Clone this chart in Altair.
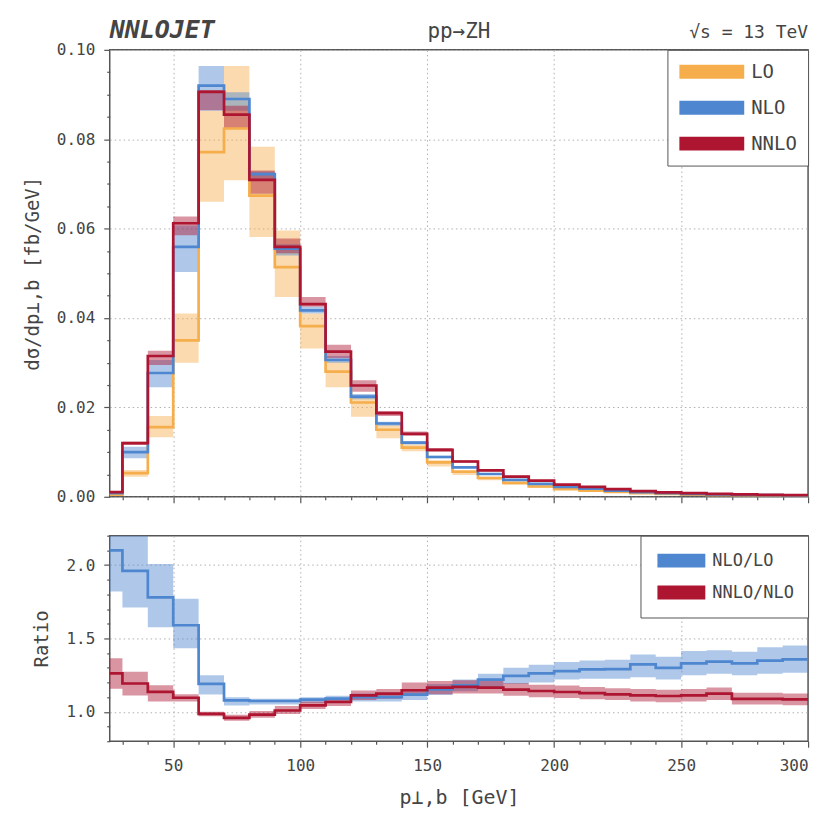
import altair as alt
import pandas as pd

FONT = "DejaVu Sans Mono"
INK = "#444444"

# 10 GeV bins from 20 to 300 GeV (first bin partly outside the shown range)
edges = [20, 30, 40, 50, 60, 70, 80, 90, 100, 110, 120, 130, 140, 150, 160,
         170, 180, 190, 200, 210, 220, 230, 240, 250, 260, 270, 280, 290, 300]

# dsigma/dpT [fb/GeV], central value and scale-variation band per bin
lo_c = [0.0005, 0.0053, 0.0156, 0.0350, 0.0771, 0.0824, 0.0674, 0.0514, 0.0382, 0.0280,
        0.0211, 0.0150, 0.0110, 0.0077, 0.0056, 0.0042, 0.0031, 0.0023, 0.0017, 0.0014,
        0.0011, 0.0008, 0.00062, 0.00049, 0.00039, 0.00032, 0.00027, 0.00022]
lo_lo = [0.0004, 0.0045, 0.0133, 0.0300, 0.0660, 0.0708, 0.0581, 0.0447, 0.0332, 0.0245,
         0.0179, 0.0131, 0.0102, 0.0068, 0.0049, 0.0037, 0.0027, 0.0020, 0.0015, 0.0012,
         0.00096, 0.0007, 0.00054, 0.00043, 0.00034, 0.00028, 0.00024, 0.00019]
lo_hi = [0.0006, 0.0060, 0.0181, 0.0410, 0.0864, 0.0964, 0.0783, 0.0596, 0.0410, 0.0302,
         0.0221, 0.0160, 0.0117, 0.0082, 0.0060, 0.0045, 0.0033, 0.0025, 0.0018, 0.0015,
         0.00117, 0.00085, 0.00066, 0.00052, 0.00041, 0.00034, 0.00029, 0.00023]

nlo_c = [0.0008, 0.0100, 0.0277, 0.0559, 0.0920, 0.0890, 0.0722, 0.0555, 0.0417, 0.0306,
         0.0224, 0.0164, 0.0121, 0.0089, 0.0066, 0.0051, 0.0038, 0.0029, 0.0022, 0.0018,
         0.0014, 0.00105, 0.0008, 0.00065, 0.00052, 0.00042, 0.00036, 0.00030]
nlo_lo = [0.0007, 0.0086, 0.0245, 0.0503, 0.0864, 0.0864, 0.0709, 0.0540, 0.0410, 0.0300,
          0.0218, 0.0159, 0.0117, 0.0086, 0.0064, 0.0049, 0.0037, 0.0028, 0.0021, 0.00175,
          0.00136, 0.00102, 0.00078, 0.00063, 0.0005, 0.00041, 0.00035, 0.00029]
nlo_hi = [0.0009, 0.0112, 0.0306, 0.0607, 0.0964, 0.0905, 0.0728, 0.0565, 0.0425, 0.0315,
          0.0230, 0.0168, 0.0124, 0.0092, 0.0068, 0.0053, 0.0039, 0.0030, 0.00227, 0.00185,
          0.00144, 0.00108, 0.00082, 0.00067, 0.00054, 0.00043, 0.00037, 0.00031]

nnlo_c = [0.00105, 0.0120, 0.0315, 0.0612, 0.0906, 0.0855, 0.0709, 0.0559, 0.0431, 0.0325,
          0.0249, 0.0187, 0.0141, 0.0105, 0.0079, 0.0059, 0.0045, 0.0036, 0.0027, 0.0022,
          0.0017, 0.00125, 0.00098, 0.0008, 0.00065, 0.00052, 0.00044, 0.00036]
nnlo_lo = [0.0009, 0.0116, 0.0295, 0.0585, 0.0865, 0.0823, 0.0678, 0.0545, 0.0425, 0.0310,
           0.0235, 0.0181, 0.0136, 0.0101, 0.0076, 0.0057, 0.0043, 0.00345, 0.0026, 0.0021,
           0.00163, 0.0012, 0.00094, 0.00077, 0.00062, 0.0005, 0.00042, 0.00035]
nnlo_hi = [0.0012, 0.0123, 0.0327, 0.0627, 0.0910, 0.0875, 0.0730, 0.0578, 0.0447, 0.0340,
           0.0261, 0.0192, 0.0146, 0.0109, 0.0082, 0.0061, 0.0047, 0.00375, 0.0028, 0.0023,
           0.00177, 0.0013, 0.00102, 0.00083, 0.00068, 0.00054, 0.00046, 0.00037]

# K-factors with their bands
k1_c = [2.10, 1.96, 1.78, 1.59, 1.19, 1.078, 1.074, 1.074, 1.083, 1.09, 1.10, 1.10,
        1.117, 1.153, 1.181, 1.22, 1.245, 1.262, 1.278, 1.289, 1.291, 1.323, 1.300,
        1.330, 1.342, 1.330, 1.349, 1.358]
k1_lo = [1.82, 1.71, 1.576, 1.434, 1.119, 1.043, 1.05, 1.05, 1.06, 1.065, 1.07, 1.07,
         1.08, 1.115, 1.14, 1.17, 1.19, 1.20, 1.22, 1.225, 1.225, 1.235, 1.22, 1.25,
         1.26, 1.25, 1.26, 1.266]
k1_hi = [2.40, 2.25, 2.007, 1.771, 1.25, 1.10, 1.09, 1.09, 1.10, 1.11, 1.125, 1.13,
         1.15, 1.19, 1.22, 1.26, 1.30, 1.32, 1.34, 1.35, 1.355, 1.39, 1.375, 1.415,
         1.42, 1.41, 1.44, 1.452]

k2_c = [1.262, 1.193, 1.136, 1.096, 0.986, 0.959, 0.981, 1.009, 1.044, 1.067, 1.112,
        1.124, 1.147, 1.165, 1.17, 1.165, 1.151, 1.142, 1.135, 1.128, 1.119, 1.112,
        1.108, 1.112, 1.124, 1.089, 1.089, 1.085]
k2_lo = [1.158, 1.112, 1.071, 1.07, 0.97, 0.94, 0.96, 0.985, 1.02, 1.04, 1.08, 1.09,
         1.11, 1.12, 1.125, 1.125, 1.11, 1.10, 1.095, 1.085, 1.08, 1.07, 1.065, 1.07,
         1.08, 1.05, 1.05, 1.045]
k2_hi = [1.365, 1.273, 1.181, 1.12, 1.00, 0.98, 1.005, 1.04, 1.07, 1.095, 1.145, 1.155,
         1.20, 1.21, 1.215, 1.21, 1.195, 1.185, 1.18, 1.17, 1.16, 1.155, 1.15, 1.155,
         1.165, 1.13, 1.13, 1.125]

ORANGE, BLUE, RED = "#F5AE4B", "#4E86CF", "#AD1530"

top_series = [("LO", ORANGE, lo_c, lo_lo, lo_hi),
              ("NLO", BLUE, nlo_c, nlo_lo, nlo_hi),
              ("NNLO", RED, nnlo_c, nnlo_lo, nnlo_hi)]
ratio_series = [("NLO/LO", BLUE, k1_c, k1_lo, k1_hi),
                ("NNLO/NLO", RED, k2_c, k2_lo, k2_hi)]

x_ticks = list(range(30, 301, 10))
top_y_ticks = [i * 0.005 for i in range(21)]
ratio_y_ticks = [0.8 + i * 0.1 for i in range(15)]


def step_frame(name, c, lo, hi):
    """Bin contents placed at lower edges, last value repeated at the upper edge."""
    rows = []
    for i, x in enumerate(edges):
        j = min(i, len(c) - 1)
        rows.append({"x": x, "series": name, "y": c[j], "lo": lo[j], "hi": hi[j]})
    return pd.DataFrame(rows)


def x_axis(with_labels):
    major = "datum.value % 50 === 0"
    return alt.Axis(
        values=x_ticks,
        labels=with_labels,
        labelExpr=f"{major} ? datum.label : ''",
        tickSize={"condition": {"test": major, "value": 6}, "value": 3},
        gridOpacity={"condition": {"test": major + " && datum.value < 300", "value": 1}, "value": 0},
        title="p⊥,b [GeV]" if with_labels else None,
        titleFontSize=20,
        titlePadding=14,
        labelFontSize=16,
        labelPadding=10,
    )


def panel(series, y_title, y_domain, y_ticks, y_major_test, y_fmt, legend_kw, height, with_xlabels):
    xs = alt.X("x:Q", scale=alt.Scale(domain=[25, 300], nice=False, zero=False),
               axis=x_axis(with_xlabels), title="p⊥,b [GeV]" if with_xlabels else None)
    y_axis = alt.Axis(
        values=y_ticks,
        labelExpr=f"{y_major_test} ? format(datum.value, '{y_fmt}') : ''",
        tickSize={"condition": {"test": y_major_test, "value": 6}, "value": 3},
        gridOpacity={"condition": {"test": y_major_test, "value": 1}, "value": 0},
        title=y_title,
        titleFontSize=19,
        titlePadding=14,
        labelFontSize=16,
        labelPadding=9,
    )
    ysc = alt.Scale(domain=y_domain, nice=False, zero=False)
    names = [s[0] for s in series]
    cols = [s[1] for s in series]
    legend = alt.Legend(title=None, orient="top-right", offset=0, fillColor="white",
                        strokeColor="#555555", symbolType="stroke", symbolOpacity=1,
                        labelFont=FONT, labelColor=INK, cornerRadius=0, labelOffset=0,
                        **legend_kw)
    bands, lines = [], []
    for name, col, c, lo, hi in series:
        df = step_frame(name, c, lo, hi)
        bands.append(
            alt.Chart(df).mark_area(interpolate="step-after", clip=True, color=col, opacity=0.45)
            .encode(x=xs, y=alt.Y("lo:Q", scale=ysc, axis=y_axis, title=y_title), y2="hi:Q")
        )
        lines.append(
            alt.Chart(df).mark_line(interpolate="step-after", clip=True, strokeWidth=2.7)
            .encode(x=xs, y=alt.Y("y:Q", scale=ysc, axis=y_axis, title=y_title),
                    color=alt.Color("series:N", scale=alt.Scale(domain=names, range=cols),
                                    legend=legend))
        )
    return alt.layer(*bands, *lines).properties(width=700, height=height)


top = panel(top_series, "dσ/dp⊥,b [fb/GeV]", [0, 0.1], top_y_ticks,
            "round(datum.value * 200) % 4 === 0", ".2f",
            dict(symbolSize=4225, symbolStrokeWidth=14, clipHeight=22, rowPadding=14,
                 labelFontSize=19, symbolOffset=-6, padding=11),
            448, False)

header_df = pd.DataFrame({"t": ["NNLOJET"], "m": ["pp→ZH"], "r": ["√s = 13 TeV"]})
head_base = alt.Chart(header_df)
header = alt.layer(
    head_base.mark_text(align="left", baseline="alphabetic", font=FONT, fontSize=25,
                        fontWeight="bold", fontStyle="italic", color=INK)
    .encode(x=alt.value(0), y=alt.value(-12), text="t:N"),
    head_base.mark_text(align="center", baseline="alphabetic", font=FONT, fontSize=21, color=INK)
    .encode(x=alt.value(350), y=alt.value(-12), text="m:N"),
    head_base.mark_text(align="right", baseline="alphabetic", font=FONT, fontSize=18, color=INK)
    .encode(x=alt.value(700), y=alt.value(-12), text="r:N"),
)
top = alt.layer(top, header)

bottom = panel(ratio_series, "Ratio", [0.8, 2.2], ratio_y_ticks,
               "round(datum.value * 10) % 5 === 0", ".1f",
               dict(symbolSize=2304, symbolStrokeWidth=14, clipHeight=22, rowPadding=10,
                    labelFontSize=17, symbolOffset=-4, padding=14),
               206, True)

chart = (
    alt.vconcat(top, bottom, spacing=28)
    .resolve_scale(color="independent")
    .configure(font=FONT, padding={"left": 22, "top": 16, "right": 29, "bottom": 5})
    .configure_view(stroke="#555555", strokeWidth=1.5)
    .configure_axis(domain=False, tickColor="#555555", tickWidth=1.2,
                    labelColor=INK, titleColor=INK, labelFont=FONT, titleFont=FONT,
                    titleFontWeight="normal", gridColor="#b0b0b0", gridDash=[1.5, 3],
                    gridWidth=1)
)

chart.save("out.html", embed_options={"renderer": "svg", "actions": False})
